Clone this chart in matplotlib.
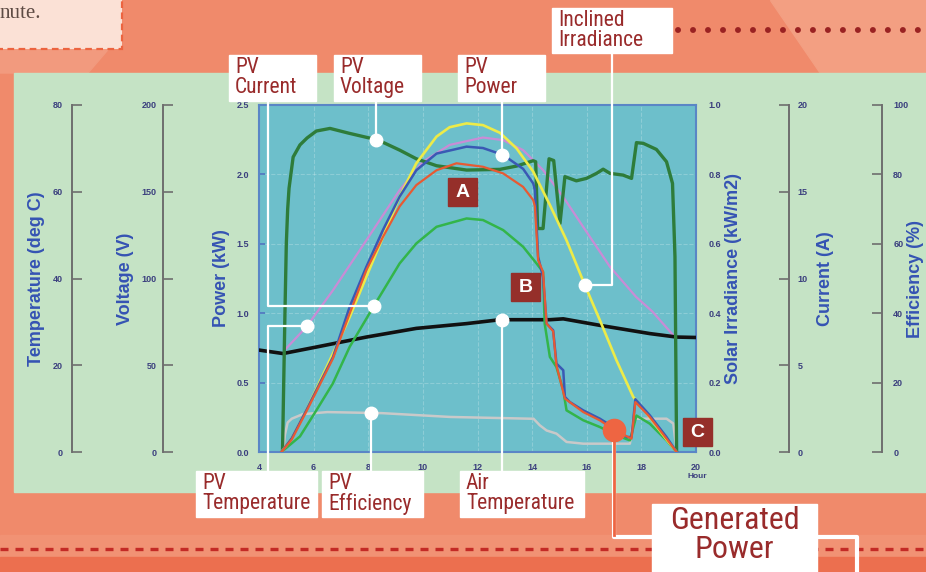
import numpy as np
import matplotlib
matplotlib.use("Agg")
import matplotlib.pyplot as plt
from matplotlib.patches import Rectangle, Polygon

# ---- data (hour of day) ----
volt_h = [4.86, 4.95, 5.0, 5.05, 5.1, 5.25, 5.5, 5.76, 6.1, 6.6, 7.3, 8.36, 9.15, 9.76, 10.5, 11.6, 12.82, 13.43, 14.04, 14.13,
          14.2, 14.4, 14.62, 14.79, 15.02, 15.2, 15.62, 15.99, 16.36, 16.6, 16.85, 17.33, 17.64, 17.82, 18.07, 18.55, 18.92, 19.14, 19.23, 19.29]
volt_v = [0, 80, 120, 140, 152, 170, 177, 181, 185, 186.5, 183.7, 179.8, 174, 169, 165, 162.5, 162.9, 164.8, 167.9, 167.3,
          128.8, 128.8, 169, 168, 131.7, 158.7, 156.3, 157.7, 160.6, 163, 160.6, 159.6, 157.7, 178.3, 177.9, 174.4, 167.3, 154.8, 112.5, 0]

cur_h = [4.82, 5.5, 6.1, 6.7, 7.32, 8.2, 9.15, 9.76, 10.5, 11.6, 12.2, 12.94, 13.67, 14.16, 14.4, 14.46, 14.65, 14.89, 15.14, 15.26,
         15.87, 16.48, 17.09, 17.58, 17.82, 18.31, 18.92, 19.29]
cur_v = [0, 0.9, 2.4, 3.94, 6.06, 8.4, 10.87, 12.02, 12.98, 13.46, 13.37, 12.79, 11.83, 10.87, 10.38, 7.4, 5.48, 4.9, 3.56, 2.4,
         1.83, 1.44, 0.96, 0.67, 2.1, 1.63, 0.67, 0]

pvp_h = [4.82, 5.2, 5.73, 6.71, 7.32, 7.93, 8.54, 9.15, 9.76, 10.5, 11.6, 12.2, 12.94, 13.67, 14.04, 14.1, 14.22, 14.4, 14.53, 14.77,
         14.89, 15.14, 15.2, 15.38, 15.87, 16.48, 16.97, 17.46, 17.64, 17.78, 18.31, 18.92, 19.29]
pvp_v = [0, 0.1, 0.30, 0.685, 1.046, 1.334, 1.6, 1.84, 2.03, 2.15, 2.2, 2.19, 2.14, 2.04, 1.935, 1.887, 1.406, 1.26, 0.925, 0.877,
         0.637, 0.589, 0.397, 0.36, 0.30, 0.24, 0.18, 0.108, 0.108, 0.38, 0.264, 0.108, 0]

gen_h = [4.82, 5.2, 5.73, 6.71, 7.32, 7.93, 8.54, 9.15, 9.76, 10.5, 11.23, 12.2, 12.94, 13.67, 14.04, 14.1, 14.22, 14.4, 14.53, 14.77,
         14.89, 15.2, 15.87, 16.48, 17.03, 17.64, 17.78, 18.31, 18.92, 19.29]
gen_v = [0, 0.09, 0.29, 0.675, 0.998, 1.31, 1.55, 1.77, 1.923, 2.03, 2.08, 2.055, 2.007, 1.91, 1.815, 1.77, 1.382, 1.298, 0.925, 0.87,
         0.625, 0.385, 0.288, 0.228, 0.156, 0.096, 0.36, 0.252, 0.096, 0]

irr_h = [4.82, 5.2, 5.73, 6.71, 7.32, 7.93, 8.54, 9.15, 9.76, 10.5, 10.98, 11.6, 12.2, 12.82, 13.43, 14.04, 14.65, 15.26, 15.93, 16.48,
         17.09, 17.7, 18.31, 18.92, 19.29]
irr_v = [0, 0.04, 0.12, 0.284, 0.389, 0.505, 0.62, 0.736, 0.832, 0.909, 0.936, 0.947, 0.942, 0.92, 0.875, 0.808, 0.712, 0.61, 0.481, 0.38,
         0.264, 0.159, 0.1, 0.036, 0]

pvt_h = [4.94, 5.73, 6.71, 7.93, 9.15, 10.0, 10.98, 12.2, 12.94, 13.67, 14.4, 15.14, 15.87, 16.85, 17.8, 18.4, 19.17]
pvt_v = [23.5, 28.8, 37.3, 48.8, 60.4, 66.9, 70.8, 72.5, 71.9, 69.6, 65.0, 58.8, 51.9, 42.7, 35.8, 32.4, 26.9]

air_h = [4.0, 4.88, 6.1, 7.93, 9.76, 11.6, 12.82, 14.65, 15.14, 16.48, 18.31, 19.29, 20.0]
air_v = [23.5, 22.7, 24.2, 26.5, 28.5, 29.6, 30.5, 30.5, 30.7, 29.2, 27.3, 26.5, 26.4]

eff_h = [4.88, 4.95, 5.05, 5.2, 5.6, 6.5, 8.5, 11.0, 13.9, 14.05, 14.28, 14.53, 14.89, 15.26, 15.87, 17.58, 17.7, 18.92, 19.17, 19.29]
eff_v = [0, 5, 8.5, 9.6, 10.9, 11.5, 11.2, 10.1, 9.6, 9.6, 7.7, 6.2, 5.3, 2.9, 2.4, 2.4, 9.6, 9.6, 8.2, 0]

hour_ticks = [4, 6, 8, 10, 12, 14, 16, 18, 20]
power_ticks = [0, 0.5, 1.0, 1.5, 2.0, 2.5]
irr_ticks = [0, 0.2, 0.4, 0.6, 0.8, 1.0]
temp_ticks = [0, 20, 40, 60, 80]
volt_ticks = [0, 50, 100, 150, 200]
cur_ticks = [0, 5, 10, 15, 20]
eff_ticks = [0, 20, 40, 60, 80, 100]

W, H = 926, 572
L, R, T, B = 259, 696, 105, 452

NARROW = ['Roboto Condensed', 'Roboto', 'DejaVu Sans']
ARIAL = ['Liberation Sans', 'DejaVu Sans']
TICKC = '#3B3F7E'
LABC = '#3553B3'
RED = '#992B2B'

fig = plt.figure(figsize=(W / 100, H / 100), dpi=100)


def rect(x0, y0, x1, y1):
    return [x0 / W, 1 - y1 / H, (x1 - x0) / W, (y1 - y0) / H]


# background
bg = fig.add_axes([0, 0, 1, 1], zorder=0)
bg.set_xlim(0, W)
bg.set_ylim(H, 0)
bg.axis('off')
bg.add_patch(Rectangle((0, 0), W, H, color='#F08A6B'))
bg.add_patch(Polygon([(770, 0), (W, 0), (W, 73), (820, 73)], color='#F39F82'))
bg.add_patch(Polygon([(0, 45), (112, 45), (88, 73), (0, 73)], color='#F29A7E'))
bg.add_patch(Rectangle((-5, -5), 127, 54, facecolor='#FBE1D6', edgecolor='#EC6440', lw=1.6, ls=(0, (3, 2))))
bg.text(0, 4, 'nute.', ha='left', va='top', fontsize=15, family=['Liberation Serif', 'DejaVu Serif'], color='#5E4B44')
bg.add_patch(Rectangle((14, 73), W - 14, 492 - 73, color='#C5E3C5'))
bg.add_patch(Rectangle((0, 535), W, 22, color='#F19274'))
bg.add_patch(Rectangle((0, 557), W, 20, color='#EC6F4F'))
bg.plot([0, W], [549, 549], color='#C42A26', lw=2.4, ls=(0, (2.4, 2.1)))
bg.plot([678, W + 5], [30, 30], color='#9A2222', lw=4.3, ls=(0, (0.01, 2.5)), dash_capstyle='round')

# main plot box (power)
ax = fig.add_axes(rect(L, T, R, B), zorder=2)
ax.set_facecolor('#6DBFCB')
ax.set_xlim(4, 20)
ax.set_ylim(0, 2.5)
ax.set_xticks(hour_ticks)
ax.set_xticklabels([str(h) for h in hour_ticks])
ax.set_yticks(power_ticks)
ax.set_yticklabels(['%.1f' % p for p in power_ticks])
ax.tick_params(axis='y', direction='in', length=4, width=1.2, color='#4F74C0', pad=7,
               labelsize=6.5, labelcolor=TICKC)
ax.tick_params(axis='x', length=0, pad=8, labelsize=6.5, labelcolor=TICKC)
for t in ax.get_xticklabels() + ax.get_yticklabels():
    t.set_fontweight('bold')
    t.set_family(ARIAL)
for s in ax.spines.values():
    s.set_color('#5A86C6')
    s.set_linewidth(1.5)
ax.grid(color='white', alpha=0.22, ls='--', lw=0.8)


def layer(lim, z):
    a = fig.add_axes(rect(L, T, R, B), zorder=z, sharex=ax)
    a.set_ylim(*lim)
    a.patch.set_visible(False)
    a.axis('off')
    return a


ax_e = layer((0, 100), 3)
ax_e.plot(eff_h, eff_v, color='#C9C9C9', lw=1.8)
ax_t = layer((0, 80), 4)
ax_t.plot(pvt_h, pvt_v, color='#C98CD6', lw=1.6)
ax_t.plot(air_h, air_v, color='#111111', lw=2.6)
ax_v = layer((0, 200), 5)
ax_v.plot(volt_h, volt_v, color='#2E7C3A', lw=2.4)
ax_c = layer((0, 20), 6)
ax_c.plot(cur_h, cur_v, color='#33B54A', lw=1.8)
ax_i = layer((0, 1.0), 7)
ax_i.plot(irr_h, irr_v, color='#EDEB48', lw=1.9)
ax_p = layer((0, 2.5), 8)
ax_p.plot(pvp_h, pvp_v, color='#3A59B4', lw=1.8)
ax_p.plot(gen_h, gen_v, color='#E75A33', lw=1.6)

# irradiance labels on the right of the box
ax_r = fig.add_axes(rect(L, T, R, B), zorder=2.5)
ax_r.patch.set_visible(False)
ax_r.xaxis.set_visible(False)
for s in ax_r.spines.values():
    s.set_visible(False)
ax_r.set_ylim(0, 1.0)
ax_r.yaxis.tick_right()
ax_r.set_yticks(irr_ticks)
ax_r.set_yticklabels(['%.1f' % v for v in irr_ticks])
ax_r.tick_params(axis='y', length=0, pad=9, labelsize=6.5, labelcolor=TICKC)
for t in ax_r.get_yticklabels():
    t.set_fontweight('bold')
    t.set_family(ARIAL)


def side_axis(xpix, lim, ticks, side, pad):
    a = fig.add_axes([xpix / W, 1 - B / H, 0.0001, (B - T) / H], zorder=2)
    a.patch.set_visible(False)
    for k, s in a.spines.items():
        s.set_visible(k == side)
    a.spines[side].set_color('#6E6E6E')
    a.spines[side].set_linewidth(1.4)
    a.xaxis.set_visible(False)
    a.set_ylim(*lim)
    a.set_yticks(ticks)
    a.set_yticklabels([str(v) for v in ticks])
    if side == 'right':
        a.yaxis.tick_right()
    a.tick_params(axis='y', direction='in', length=7, width=1.2, color='#6E6E6E', pad=pad,
                  labelsize=6.5, labelcolor=TICKC)
    for t in a.get_yticklabels():
        t.set_fontweight('bold')
        t.set_family(ARIAL)
    return a


side_axis(72, (0, 80), temp_ticks, 'left', 6.5)
side_axis(163, (0, 200), volt_ticks, 'left', 4.5)
side_axis(789, (0, 20), cur_ticks, 'right', 6)
side_axis(882, (0, 100), eff_ticks, 'right', 8)

# axis titles
mid = H - (T + B) / 2
for xp, txt in [(37, 'Temperature (deg C)'), (126, 'Voltage (V)'), (222, 'Power (kW)'),
                (733, 'Solar Irradiance (kW/m2)'), (825, 'Current (A)'), (916, 'Efficiency (%)')]:
    fig.text(xp / W, mid / H, txt, rotation=90, ha='center', va='center', fontsize=13,
             fontweight='bold', color=LABC, family=ARIAL)
fig.text(697 / W, 1 - 476 / H, 'Hour', ha='center', va='center', fontsize=6, fontweight='bold',
         color=TICKC, family=ARIAL)

# overlay for callouts
ov = fig.add_axes([0, 0, 1, 1], zorder=20)
ov.set_xlim(0, W)
ov.set_ylim(H, 0)
ov.axis('off')
ov.patch.set_visible(False)


def at(a, hour, hs, vs):
    d = a.transData.transform((hour, np.interp(hour, hs, vs)))
    return d[0], H - d[1]


def tag(x0, y0, x1, y1, text, size=15.5, center=False, ls=0.95):
    ov.add_patch(Rectangle((x0, y0), x1 - x0, y1 - y0, color='white', zorder=3))
    tx = (x0 + x1) / 2 if center else x0 + 6
    ov.text(tx, y0 + 2, text, ha='center' if center else 'left', va='top', color=RED,
            fontsize=size, family=NARROW, linespacing=ls, zorder=4)


def wline(xs, ys):
    ov.plot(xs, ys, color='white', lw=1.6, zorder=2, solid_capstyle='butt')


def wdot(x, y):
    ov.plot([x], [y], 'o', ms=9, color='white', zorder=5)


# top callouts
cx, cy = at(ax_c, 8.2, cur_h, cur_v)
wline([268, 268, cx], [101, cy, cy]); wdot(cx, cy)
vx, vy = at(ax_v, 8.3, volt_h, volt_v)
wline([vx, vx], [101, vy]); wdot(vx, vy)
px_, py_ = at(ax_p, 12.9, pvp_h, pvp_v)
wline([px_, px_], [101, py_]); wdot(px_, py_)
ix, iy = at(ax_i, 15.93, irr_h, irr_v)
wline([612, 612, ix], [53, iy, iy]); wdot(ix, iy)

# bottom callouts
tx_, ty_ = at(ax_t, 5.75, pvt_h, pvt_v)
wline([tx_, 268, 268], [ty_, ty_, 471]); wdot(tx_, ty_)
ex, ey = at(ax_e, 8.1, eff_h, eff_v)
wline([ex, ex], [ey, 471]); wdot(ex, ey)
ax_x, ax_y = at(ax_t, 12.9, air_h, air_v)
wline([ax_x, ax_x], [ax_y, 471]); wdot(ax_x, ax_y)

gx, gy = at(ax_p, 17.0, gen_h, gen_v)
ov.plot([gx, gx, 857, 857], [gy, 537, 537, H + 5], color='white', lw=3.0, zorder=2)
ov.plot([gx, gx], [gy, 535], color='#EE6542', lw=2.0, zorder=2.5)
ov.plot([gx], [gy], 'o', ms=16, color='#EE6542', zorder=5)

tag(229, 55, 316, 101, 'PV\nCurrent')
tag(334, 55, 421, 101, 'PV\nVoltage')
tag(458, 55, 545, 101, 'PV\nPower')
tag(552, 8, 672, 53, 'Inclined\nIrradiance')
tag(196, 471, 317, 517, 'PV\nTemperature')
tag(322, 471, 423, 517, 'PV\nEfficiency')
tag(460, 471, 584, 517, 'Air\nTemperature')
tag(652, 504, 817, H + 10, 'Generated\nPower', size=23, center=True, ls=1.0)

# A / B / C markers
for x0, y0, letter in [(448, 178, 'A'), (511, 273, 'B'), (683, 418, 'C')]:
    ov.add_patch(Rectangle((x0, y0), 29, 28, color='#952F2A', zorder=6))
    ov.text(x0 + 14.5, y0 + 14.5, letter, ha='center', va='center', color='white', fontsize=14,
            fontweight='bold', family=ARIAL, zorder=7)

fig.savefig('out.png', dpi=100)
